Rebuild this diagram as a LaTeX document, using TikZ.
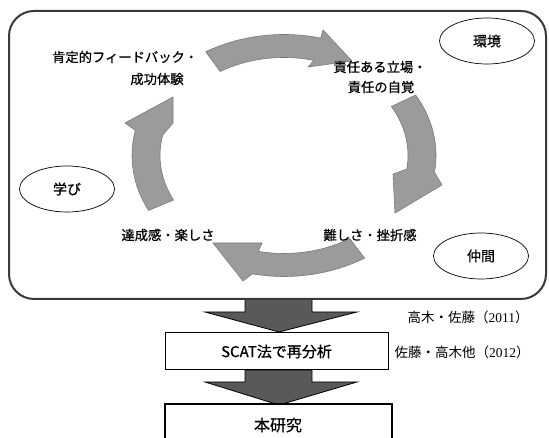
\documentclass[tikz,border=0pt]{standalone}
\usepackage{fontspec}
\usetikzlibrary{shapes.geometric}
\setmainfont{Noto Sans CJK JP}
\newfontfamily\jpmed[FakeBold=0.7]{Noto Sans CJK JP}
\newfontfamily\serifdigits{Liberation Serif}
\definecolor{cycgray}{HTML}{9B9B9B}
\definecolor{cycedge}{HTML}{7A7A7A}
\definecolor{downgray}{HTML}{595959}
\definecolor{frame}{HTML}{3A3A3A}
\begin{document}
\begin{tikzpicture}[x=1pt,y=1pt,
  cyc/.style={fill=cycgray,draw=cycedge,line width=0.6pt,line join=round},
  downarrow/.style={fill=downgray,draw=black,line width=0.8pt},
  lbl/.style={inner sep=0pt,font=\jpmed\fontsize{13.3}{15}\selectfont},
  oval/.style={draw=black,line width=0.7pt,ellipse,minimum width=95pt,minimum height=46pt,inner sep=0pt,font=\jpmed\fontsize{14}{16}\selectfont},
  ref/.style={inner sep=0pt,font=\fontsize{13.5}{15}\selectfont},
  boxstyle/.style={draw=black,line width=1pt,fill=white}]
\useasboundingbox (0,0) rectangle (549,438);
\clip (0,0) rectangle (549,438);
\fill[white] (0,0) rectangle (549,438);

% down arrows (drawn before frame so frame covers top edge)
\filldraw[downarrow] (245,139) -- (245,126) -- (205,126) -- (279,106) -- (357,126) -- (312,126) -- (312,139) -- cycle;
\filldraw[downarrow] (245,68) -- (245,56) -- (205,56) -- (279,33) -- (357,56) -- (312,56) -- (312,68) -- cycle;

% main frame
\draw[frame,line width=2pt,rounded corners=25pt,fill=white] (9,139) rectangle (546,427);

% cycle arrows
\filldraw[cyc] ({284+152*cos(121)},{282.5+121*sin(121)}) arc[start angle=121,end angle=76,x radius=152pt,y radius=121pt]
  -- (323,408) -- (352,377) -- (308,371)
  -- ({284+124*cos(76)},{282.5+98*sin(76)}) arc[start angle=76,end angle=121,x radius=124pt,y radius=98pt] -- cycle;
\filldraw[cyc] ({284+152*cos(30)},{282.5+121*sin(30)}) arc[start angle=30,end angle=-8,x radius=152pt,y radius=121pt]
  -- (442,253) -- (395,225) -- (393,264)
  -- ({284+124*cos(-8)},{282.5+98*sin(-8)}) arc[start angle=-8,end angle=30,x radius=124pt,y radius=98pt] -- cycle;
\filldraw[cyc] ({284+152*cos(-58)},{282.5+121*sin(-58)}) arc[start angle=-58,end angle=-102,x radius=152pt,y radius=121pt]
  -- (243,157) -- (213,195) -- (262,195)
  -- ({284+124*cos(-102)},{282.5+98*sin(-102)}) arc[start angle=-102,end angle=-58,x radius=124pt,y radius=98pt] -- cycle;
\filldraw[cyc] ({284+152*cos(207)},{282.5+121*sin(207)}) arc[start angle=207,end angle=168,x radius=152pt,y radius=121pt]
  -- (125,315) -- (173,341) -- (173,315)
  -- ({284+124*cos(168)},{282.5+98*sin(168)}) arc[start angle=168,end angle=207,x radius=124pt,y radius=98pt] -- cycle;

% cycle labels
\node[lbl] (fb1) at (125,381) {肯定的フィードバック・};
\node[lbl] (fb2) at (157,359) {成功体験};
\node[lbl] (re1) at (380,371) {責任ある立場・};
\node[lbl] (re2) at (381,351) {責任の自覚};
\node[lbl] (ac) at (168,203) {達成感・楽しさ};
\node[lbl] (di) at (370,203) {難しさ・挫折感};

% ovals
\node[oval] (env) at (487,397) {環境};
\node[oval] (mana) at (67,249) {学び};
\node[oval] (naka) at (481,182) {仲間};

% boxes
\node[boxstyle,minimum width=223pt,minimum height=37pt,inner sep=0pt,font=\jpmed\fontsize{15}{17}\selectfont] (scat) at (276.5,86.5) {SCAT法で再分析};
\draw[boxstyle,line width=1.2pt] (165,-5) rectangle (392,34);
\node[inner sep=0pt,font=\jpmed\fontsize{16}{18}\selectfont] (hon) at (278,13) {本研究};

% references
\node[ref] (r1) at (468,121) {高木・佐藤（{\serifdigits 2011}）};
\node[ref] (r2) at (462,86) {佐藤・高木他（{\serifdigits 2012}）};
\end{tikzpicture}
\end{document}
